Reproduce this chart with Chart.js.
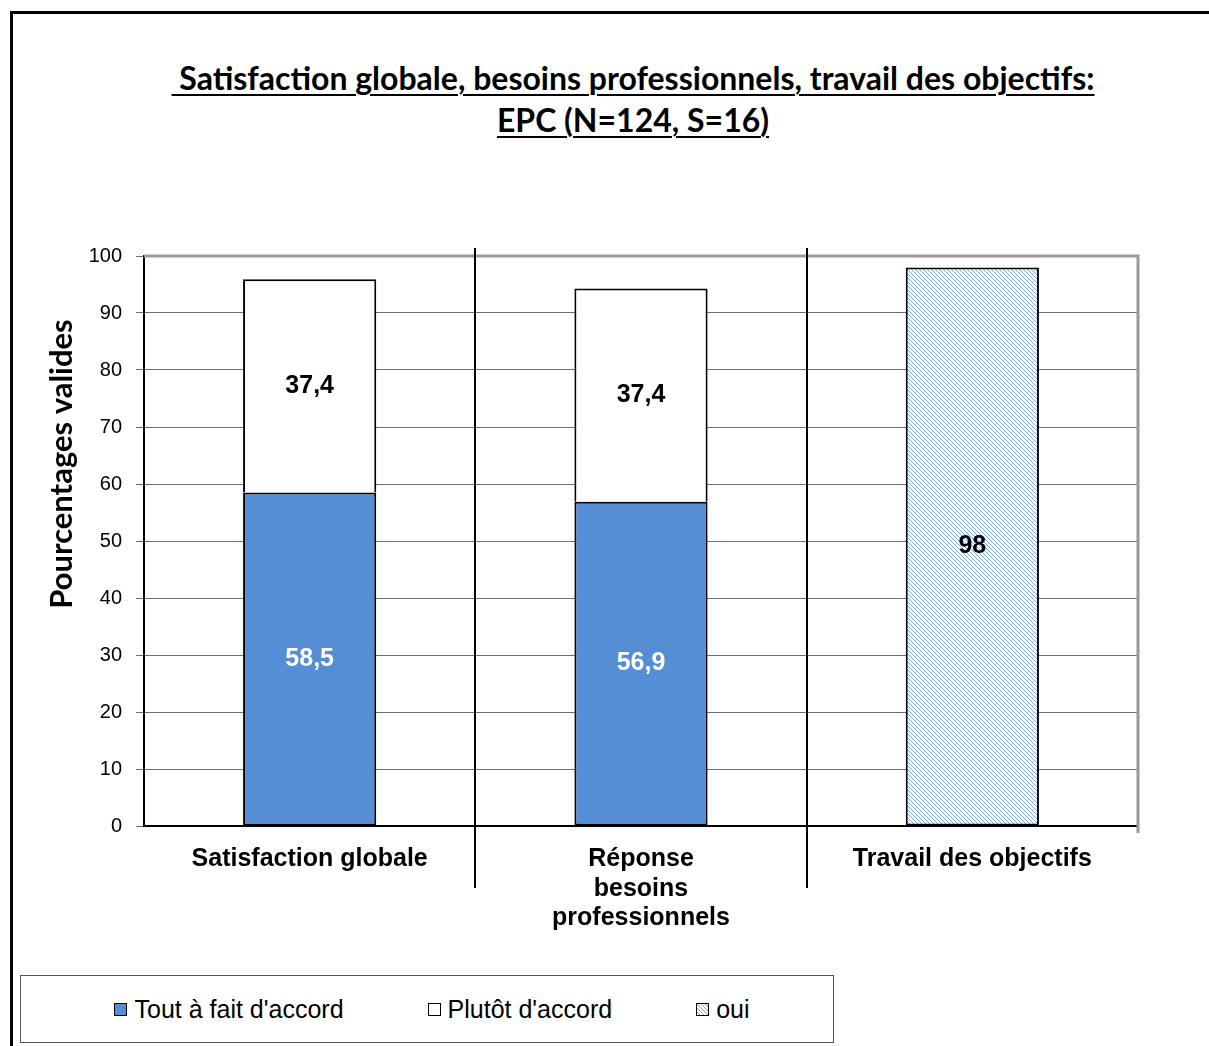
<!DOCTYPE html>
<html lang="fr">
<head>
    <meta charset="UTF-8">
    <title>Satisfaction globale - EPC</title>
    <script src="https://cdn.jsdelivr.net/npm/chart.js"></script>
    <style>
        body { margin: 0; background: #fff; font-family: 'Liberation Sans', Arial, sans-serif; }
        #page { position: relative; width: 1209px; height: 1046px; overflow: hidden; }
        #cadre { position: absolute; left: 10px; top: 11px; width: 1300px; height: 1100px;
                 border-left: 3px solid #000; border-top: 3px solid #000; }
        #titre { position: absolute; left: 0; top: 57px; width: 1266px; text-align: center;
                 font-family: Lato, 'Open Sans', sans-serif; font-weight: bold; font-size: 32px;
                 line-height: 42px; text-decoration: underline; text-decoration-thickness: 2px;
                 text-underline-offset: 4px; color: #000; }
        #zone { position: absolute; left: 0; top: 230px; width: 1160px; height: 720px; }
        #legende { position: absolute; left: 20px; top: 975px; width: 814px; height: 68px;
                   border: 1px solid #555; display: flex; align-items: center;
                   justify-content: center; padding-left: 10px; box-sizing: border-box;
                   font-size: 25px; color: #000; }
        .item { display: flex; align-items: center; margin: 0 42px; }
        .case { width: 11px; height: 11px; border: 1px solid #000; margin-right: 7px; }
    </style>
</head>
<body>
<div id="page">
    <div id="cadre"></div>
    <div id="titre">&nbsp;Satisfaction globale, besoins professionnels, travail des objectifs:<br>EPC (N=124, S=16)</div>
    <div id="zone"><canvas id="graphique"></canvas></div>
    <div id="legende">
        <div class="item"><span class="case" style="background:#558ED5"></span>Tout à fait d'accord</div>
        <div class="item"><span class="case" style="background:#fff"></span>Plutôt d'accord</div>
        <div class="item"><span class="case" id="caseOui"></span>oui</div>
    </div>
</div>

<script>
    // Données
    const categories = ['Satisfaction globale', ['Réponse', 'besoins', 'professionnels'], 'Travail des objectifs'];
    const toutAFait = [58.5, 56.9, null];
    const plutot = [37.4, 37.4, null];
    const oui = [null, null, 98];
    const graduations = [0, 10, 20, 30, 40, 50, 60, 70, 80, 90, 100];

    const BLEU = '#558ED5';

    // motif hachuré pour "oui"
    function hachures() {
        const c = document.createElement('canvas');
        c.width = 4; c.height = 4;
        const g = c.getContext('2d');
        g.fillStyle = '#fff';
        g.fillRect(0, 0, 4, 4);
        g.strokeStyle = '#6d9ddb';
        g.lineWidth = 0.9;
        g.beginPath();
        g.moveTo(-1, -1); g.lineTo(5, 5);
        g.moveTo(-1, 3); g.lineTo(1, 5);
        g.moveTo(3, -1); g.lineTo(5, 1);
        g.stroke();
        return c;
    }
    const motifCanvas = hachures();
    const ctx = document.getElementById('graphique').getContext('2d');
    const motif = ctx.createPattern(motifCanvas, 'repeat');
    document.getElementById('caseOui').style.background = 'url(' + motifCanvas.toDataURL() + ')';

    // cadre gris, séparateurs de catégories, titre de l'axe Y
    const decor = {
        id: 'decor',
        beforeDatasetsDraw(chart) {
            const { ctx, chartArea: a, scales: { x } } = chart;
            ctx.save();
            ctx.strokeStyle = '#999';
            ctx.lineWidth = 3;
            ctx.beginPath();
            ctx.moveTo(a.left, a.top);
            ctx.lineTo(a.right, a.top);
            ctx.lineTo(a.right, a.bottom + 7);
            ctx.stroke();
            ctx.strokeStyle = '#000';
            ctx.lineWidth = 2;
            for (let i = 0; i < categories.length - 1; i++) {
                const sx = Math.round((x.getPixelForTick(i) + x.getPixelForTick(i + 1)) / 2);
                ctx.beginPath();
                ctx.moveTo(sx, a.top - 8);
                ctx.lineTo(sx, a.bottom + 62);
                ctx.stroke();
            }
            ctx.restore();
        },
        afterDraw(chart) {
            const ctx = chart.ctx;
            ctx.save();
            ctx.translate(62, 234);
            ctx.rotate(-Math.PI / 2);
            ctx.font = 'bold 31px Lato, "Open Sans", sans-serif';
            ctx.fillStyle = '#000';
            ctx.textAlign = 'center';
            ctx.textBaseline = 'middle';
            ctx.fillText('Pourcentages valides', 0, 0);
            ctx.restore();
        }
    };

    // valeurs au centre des segments
    const etiquettes = {
        id: 'etiquettes',
        afterDatasetsDraw(chart) {
            const ctx = chart.ctx;
            ctx.save();
            ctx.font = 'bold 25px "Liberation Sans", Arial, sans-serif';
            ctx.textAlign = 'center';
            ctx.textBaseline = 'middle';
            chart.data.datasets.forEach((ds, di) => {
                chart.getDatasetMeta(di).data.forEach((bar, i) => {
                    const v = ds.data[i];
                    if (v === null) return;
                    ctx.fillStyle = di === 0 ? '#fff' : '#000';
                    ctx.fillText(String(v).replace('.', ','), bar.x, (bar.y + bar.base) / 2);
                });
            });
            ctx.restore();
        }
    };

    new Chart(ctx, {
        type: 'bar',
        data: {
            labels: categories,
            datasets: [
                { label: "Tout à fait d'accord", data: toutAFait, backgroundColor: BLEU, borderSkipped: false },
                { label: "Plutôt d'accord", data: plutot, backgroundColor: '#fff', borderSkipped: 'start' },
                { label: 'oui', data: oui, backgroundColor: motif, borderSkipped: false }
            ].map(d => Object.assign(d, {
                borderColor: '#000', borderWidth: 2,
                categoryPercentage: 1, barPercentage: 0.402
            }))
        },
        options: {
            responsive: true,
            maintainAspectRatio: false,
            animation: false,
            layout: { padding: { left: 0, right: 22, top: 25, bottom: 0 } },
            plugins: { legend: { display: false }, tooltip: { enabled: false } },
            scales: {
                x: {
                    stacked: true,
                    grid: { display: false },
                    border: { color: '#000', width: 2 },
                    ticks: {
                        color: '#000', padding: 10, maxRotation: 0,
                        font: { family: '"Liberation Sans", Arial', size: 25, weight: 'bold', lineHeight: 1.19 }
                    },
                    afterFit(s) { s.height = 124; }
                },
                y: {
                    stacked: true,
                    min: 0, max: 100,
                    afterBuildTicks(s) { s.ticks = graduations.map(v => ({ value: v })); },
                    grid: { color: '#6e6e6e', lineWidth: 1, tickLength: 8 },
                    border: { color: '#000', width: 2 },
                    ticks: {
                        color: '#000', padding: 14,
                        font: { family: '"Liberation Sans", Arial', size: 20 }
                    },
                    afterFit(s) { s.width = 144; }
                }
            }
        },
        plugins: [decor, etiquettes]
    });
</script>
</body>
</html>
